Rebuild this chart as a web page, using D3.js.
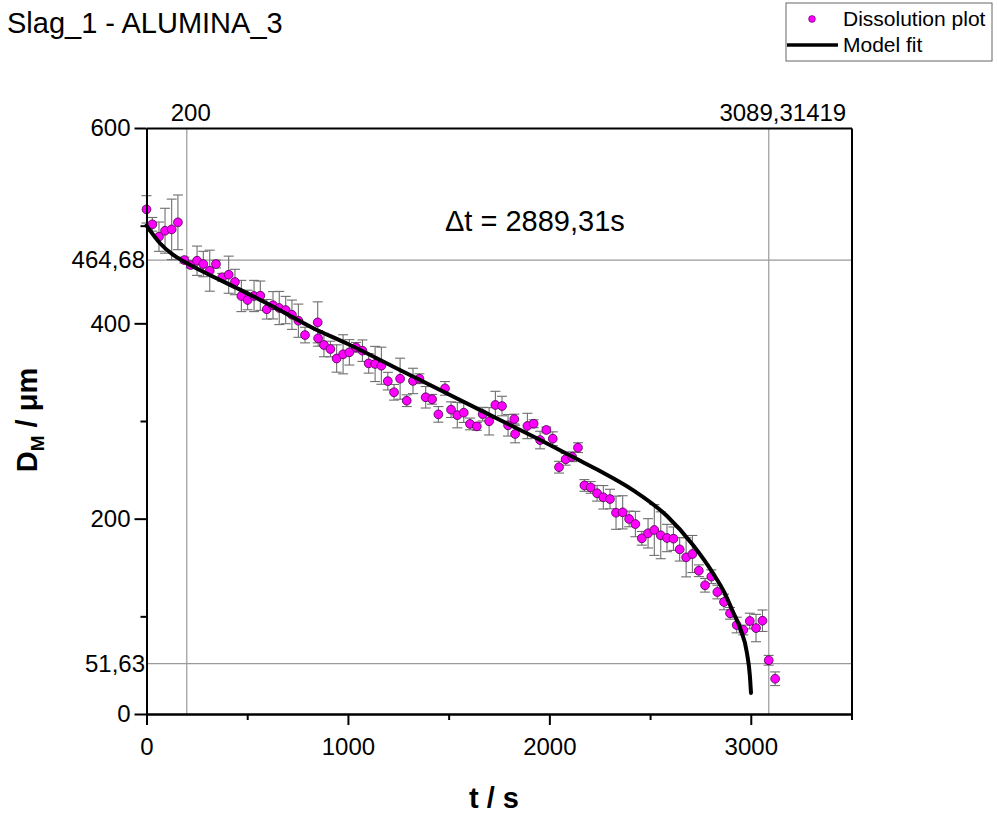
<!DOCTYPE html>
<html>
<head>
<meta charset="utf-8">
<script src="https://cdn.jsdelivr.net/npm/d3@7"></script>
<style>
body { margin: 0; background: #fff; }
text { font-family: "Liberation Sans", Arial, sans-serif; }
</style>
</head>
<body>
<div id="container"></div>
<script>
// measured points (t in s, D in um, error bar half height)
const times = [0,29,62,92,125,156,188,219,251,282,314,345,376,408,439,471,502,534,565,597,628,659,691,722,754,787,850,852,881,913,944,976,1007,1040,1072,1103,1135,1166,1198,1229,1259,1292,1323,1355,1386,1418,1449,1482,1512,1543,1575,1606,1640,1669,1701,1732,1765,1795,1826,1830,1891,1922,1954,1985,2017,2048,2081,2113,2142,2174,2205,2237,2268,2301,2331,2364,2396,2427,2459,2490,2521,2553,2584,2616,2647,2679,2710,2742,2773,2804,2834,2867,2897,2930,2963,2995,3026,3058,3089,3121];
const diam = [516.7,501.4,488.7,494.8,496.2,503.4,464.8,459.7,464.1,460.7,453.9,460.7,447.1,449.8,442.3,428,423.9,428,428.3,414.4,418.5,415.7,413.6,408.8,402.7,388,401,384.6,377.8,373.7,364,368.3,370.3,375.4,372,359,358.4,356.6,340.8,329.4,343.3,320.8,341,343.3,324.3,322.2,306.8,333.4,311.6,306,308.5,297,294.5,307,299.7,316.4,315.3,295.6,302,286.7,294.9,297.2,280.5,290.8,281.9,252.7,260.8,263.4,272.7,234,232,226,221.9,220.1,206.1,206.5,199.7,194.5,179.9,185,188.4,183,180.2,179.5,168.6,160.4,163.8,146.7,131.8,140.6,124.9,114.7,103.1,91.1,86,95.2,88,95.5,55,36.1];
const errs = [14,7,15,23,31,28,3,3,15,13,21,4,4,19,13,16,10,16,15,10,14,17,14,15,17,8,21,8,12,8,14,20,13,5,11,10,18,19,9,8,21,6,13,5,11,5,8,7,8,13,10,6,4,7,14,14,10,11,5,9,13,4,9,3,7,6,6,5,5,6,6,8,12,10,17,17,8,13,7,15,26,24,14,12,12,20,19,6,7,7,7,8,6,8,5,8,14,11,5,7];

// model fit curve
const fitT = [0,67,133,188,299,464,630,828,1000,1258,1507,1755,2003,2137,2251,2415,2584,2713,2812,2870,2912,2947,2981,2996,3001];
const fitD = [500,482,470,463,451,434.5,417,395,378.8,352.2,326.6,301,275.4,261,248.8,229.3,202.7,173,144.3,124,104.4,88,62.4,37.9,21.5];

const xMajor = [0,1000,2000,3000];
const xMinor = [500,1500,2500,3500];
const yMajor = [0,200,400,600];
const yMinor = [100,300,500];

const vLines = [200, 3089.31419];
const vLabels = ["200", "3089,31419"];
const hLines = [464.68, 51.63];
const hLabels = ["464,68", "51,63"];

const svg = d3.select("#container")
  .append("svg")
  .attr("width", 997)
  .attr("height", 816);

const x = d3.scaleLinear().domain([0, 3500]).range([146.5, 851.5]);
const y = d3.scaleLinear().domain([0, 600]).range([714, 128]);

// title
svg.append("text")
  .attr("x", 7).attr("y", 33)
  .style("font-size", "29px")
  .text("Slag_1 - ALUMINA_3");

// reference lines
svg.selectAll(".vref").data(vLines).enter().append("line")
  .attr("x1", d => x(d)).attr("x2", d => x(d))
  .attr("y1", y(600)).attr("y2", y(0))
  .attr("stroke", "#9a9a9a").attr("stroke-width", 1.2);
svg.selectAll(".href").data(hLines).enter().append("line")
  .attr("x1", x(0)).attr("x2", x(3500))
  .attr("y1", d => y(d)).attr("y2", d => y(d))
  .attr("stroke", "#9a9a9a").attr("stroke-width", 1.2);

svg.selectAll(".vlab").data(vLines).enter().append("text")
  .attr("x", (d, i) => x(d) + (i == 0 ? 4 : 14))
  .attr("y", 121)
  .attr("text-anchor", "middle")
  .style("font-size", "24px")
  .text((d, i) => vLabels[i]);
svg.selectAll(".hlab").data(hLines).enter().append("text")
  .attr("x", 145)
  .attr("y", d => y(d) + 8)
  .attr("text-anchor", "end")
  .style("font-size", "24px")
  .text((d, i) => hLabels[i]);

// error bars
const pts = times.map((t, i) => ({t: t, d: diam[i], e: errs[i]}));
const eb = svg.append("g").attr("stroke", "#6e6e6e").attr("stroke-width", 1.1);
eb.selectAll(".bar").data(pts).enter().append("line")
  .attr("x1", d => x(d.t)).attr("x2", d => x(d.t))
  .attr("y1", d => y(d.d + d.e)).attr("y2", d => y(d.d - d.e));
eb.selectAll(".capt").data(pts).enter().append("line")
  .attr("x1", d => x(d.t) - 5).attr("x2", d => x(d.t) + 5)
  .attr("y1", d => y(d.d + d.e)).attr("y2", d => y(d.d + d.e));
eb.selectAll(".capb").data(pts).enter().append("line")
  .attr("x1", d => x(d.t) - 5).attr("x2", d => x(d.t) + 5)
  .attr("y1", d => y(d.d - d.e)).attr("y2", d => y(d.d - d.e));

// points
svg.append("g").selectAll("circle").data(pts).enter().append("circle")
  .attr("cx", d => x(d.t))
  .attr("cy", d => y(d.d))
  .attr("r", 4.4)
  .attr("fill", "#ff00ff")
  .attr("stroke", "#4a004a")
  .attr("stroke-width", 0.8);

// model fit
const fit = fitT.map((t, i) => [t, fitD[i]]);
svg.append("path")
  .datum(fit)
  .attr("fill", "none")
  .attr("stroke", "#000")
  .attr("stroke-width", 4)
  .attr("stroke-linecap", "round")
  .attr("d", d3.line().x(d => x(d[0])).y(d => y(d[1])).curve(d3.curveMonotoneX));

// axes
function styleAxis(g) {
  g.select(".domain").attr("stroke-width", 2);
  g.selectAll(".tick line").attr("stroke-width", 2);
  g.selectAll(".tick text").style("font-size", "24px").style("font-family", "'Liberation Sans', Arial, sans-serif");
}

svg.append("g").attr("transform", "translate(0," + y(0) + ")")
  .call(d3.axisBottom(x).tickValues(xMajor).tickSize(11).tickSizeOuter(0).tickPadding(13).tickFormat(d3.format("d")))
  .call(styleAxis);
svg.append("g").attr("transform", "translate(0," + y(0) + ")")
  .call(d3.axisBottom(x).tickValues(xMinor).tickSize(6).tickSizeOuter(0).tickFormat(""))
  .call(styleAxis);
svg.append("g").attr("transform", "translate(" + x(0) + ",0)")
  .call(d3.axisLeft(y).tickValues(yMajor).tickSize(12).tickSizeOuter(0).tickPadding(4).tickFormat(d3.format("d")))
  .call(styleAxis);
svg.append("g").attr("transform", "translate(" + x(0) + ",0)")
  .call(d3.axisLeft(y).tickValues(yMinor).tickSize(6).tickSizeOuter(0).tickFormat(""))
  .call(styleAxis);
svg.append("g").attr("transform", "translate(0," + y(600) + ")")
  .call(d3.axisTop(x).tickValues([]).tickSizeOuter(0))
  .call(styleAxis);
svg.append("g").attr("transform", "translate(" + x(3500) + ",0)")
  .call(d3.axisRight(y).tickValues([]).tickSizeOuter(0))
  .call(styleAxis);

// axis titles
svg.append("text")
  .attr("x", 494).attr("y", 808)
  .attr("text-anchor", "middle")
  .style("font-size", "29px").style("font-weight", "bold")
  .text("t / s");

const yt = svg.append("text")
  .attr("transform", "translate(37,420) rotate(-90)")
  .attr("text-anchor", "middle")
  .style("font-size", "29px").style("font-weight", "bold");
yt.append("tspan").text("D");
yt.append("tspan").attr("dy", 7).style("font-size", "19px").text("M");
yt.append("tspan").attr("dy", -7).text(" / \u03bcm");

// annotation
svg.append("text")
  .attr("x", 445).attr("y", 231)
  .style("font-size", "29px")
  .text("\u0394t = 2889,31s");

// legend
const lg = svg.append("g");
lg.append("rect")
  .attr("x", 786).attr("y", 3).attr("width", 206).attr("height", 58)
  .attr("fill", "#fff").attr("stroke", "#666").attr("stroke-width", 1);
lg.append("circle")
  .attr("cx", 812).attr("cy", 19).attr("r", 3.4)
  .attr("fill", "#ff00ff").attr("stroke", "#4a004a").attr("stroke-width", 0.6);
lg.append("line")
  .attr("x1", 787).attr("x2", 838).attr("y1", 45).attr("y2", 45)
  .attr("stroke", "#000").attr("stroke-width", 3.5);
lg.append("text").attr("x", 843).attr("y", 26).style("font-size", "21px").text("Dissolution plot");
lg.append("text").attr("x", 843).attr("y", 52).style("font-size", "21px").text("Model fit");
</script>
</body>
</html>
